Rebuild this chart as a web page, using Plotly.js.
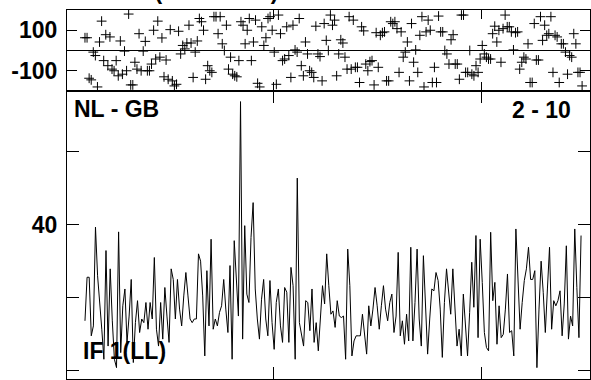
<!DOCTYPE html>
<html>
<head>
<meta charset="utf-8">
<script src="https://cdn.plot.ly/plotly-3.0.1.min.js"></script>
<style>html,body{margin:0;padding:0;background:#fff;}#chart{width:591px;height:380px;}</style>
</head>
<body>
<div id="chart"></div>
<script>
// ---- data ----
const timeStart = 0.096;   // first sample (hours, relative)
const timeEnd = 2.481;     // last sample

const amplitude = [
13.7,25.6,25.6,9.6,12.3,39.3,26,19.6,11.4,3.2,32.9,6.8,27.9,13.7,3.2,0.9,38,5,17.8,22.4,
7.8,15,25,2.3,13.2,19.2,10.5,14.2,13.2,18.7,11.4,18.7,14.2,31,11.4,6.8,18.7,8.7,22.8,15,
7.8,27.9,25,14.2,25,16.9,12.3,20.5,26.9,20.5,14.2,13.2,14.2,14.2,32,30,20.5,4.1,27.4,12.3,
36,11.4,14.2,12.3,16,17.8,25,16.9,10.5,28.8,3.2,35.6,23.3,15,73.6,8.7,39.7,21,18.7,36.5,
46,22.4,14.2,8.7,19.6,25,14.2,9.6,24.7,13.2,5.9,18.7,22.4,12.3,7.8,22.8,21.5,7.8,28.3,23.3,
3.2,52.7,13.2,9.6,6.8,19.2,18.7,11,22.4,7.8,13.2,5.5,15,23.3,18.3,32,23.3,15.5,16.4,11.9,
19.2,15,14.6,15,3.2,33.3,23.3,4.1,8.2,9.6,9.6,9.6,15.5,10.5,4.6,17.8,12.3,16.9,22.8,17.8,
11.4,17.8,23.3,16.9,13.7,18.7,21,10.5,15,32.4,9.6,13.7,7.3,15.5,8.2,33.8,8.2,18.7,33.3,14.2,
6.8,31.5,18.7,4.6,14.2,22.4,21.9,26.9,24.7,16.9,3.7,18.7,27.9,20.5,15.5,27.9,16.9,6.8,11.4,4.1,
21,13.2,4.1,16,29.7,17.4,37,9.1,36,24.2,10.5,6.4,5.5,37.9,19.2,24.2,7.3,17.8,9.1,10,
16.9,26.5,10.5,11,4.1,38.8,23.3,11.4,18.7,24.7,27.9,33.8,25,25,27.4,0.9,16.9,30,21.5,10.5,
22.4,33.8,11.4,19.2,17.8,19.2,21.9,9.6,18.3,34.2,8.7,15,12.3,38.8,22.8,9.1,37
];

const phase = [
63,63,-137,-145,-8,-25,-180,42,145,-50,78,-75,67,-92,-100,-50,-125,47,-117,-3,
-100,180,-170,-170,-58,-92,83,-100,-3,45,-100,-100,-67,100,-42,145,-33,62,-130,-47,
-142,103,-150,-175,-167,95,-17,25,8,37,125,37,-133,-8,47,158,142,100,-142,-75,
-100,-108,167,167,83,167,33,0,125,-92,-33,-117,-125,-130,-50,142,125,33,100,158,
-50,42,150,-162,-180,117,25,63,158,167,100,-8,-167,175,83,-50,-42,117,-25,-133,
125,3,-8,158,-75,-125,42,-17,-100,-108,-133,120,-17,-30,-150,133,50,0,175,125,
150,-125,-17,53,37,-33,-92,167,-92,150,-83,-83,-158,117,97,-67,-100,-55,-50,-170,
88,-83,75,88,92,-150,-150,142,133,142,108,-108,92,-33,-8,42,-150,133,-58,3,
-108,75,167,-180,92,150,100,-158,-83,-158,170,92,92,0,-17,-67,53,78,-67,-67,
-142,175,175,-108,-108,0,-117,-125,-75,-108,-42,25,-17,-33,-42,-42,83,120,42,100,
-58,108,175,117,117,92,3,88,92,-92,-58,-33,-42,33,-158,-158,133,-47,-47,167,
50,125,75,83,167,-108,75,67,-158,33,33,-8,-117,-25,-33,83,33,-108,-108,-175
];

const ampTicks = [0, 20, 40, 60];
const ampTickText = ['0', '', '40', ''];
const phaseTicks = [-100, 100];
const phaseTickText = ['-100', '100'];
const timeTicks = [1, 2];

const baselineLabel = 'NL - GB';
const antennaLabel = '2 - 10';
const ifLabel = 'IF 1(LL)';
const topTitle = 'AMPLITUDE (JANSKYS)';

// ---- plot ----
const fam = 'Liberation Sans, Arial, sans-serif';
const tickFont = {family: fam, size: 23, weight: 'bold', color: '#000'};
const lblFont = {family: fam, size: 23, weight: 'bold', color: '#000'};

const traces = [
  {
    type: 'scatter', mode: 'lines',
    x0: timeStart, dx: (timeEnd - timeStart) / (amplitude.length - 1),
    y: amplitude,
    line: {color: '#000', width: 1},
    xaxis: 'x', yaxis: 'y', hoverinfo: 'skip'
  },
  {
    type: 'scatter', mode: 'markers',
    x0: timeStart, dx: (timeEnd + 0.005 - timeStart) / (phase.length - 1),
    y: phase,
    marker: {symbol: 'cross-thin-open', size: 7, color: '#000', line: {color: '#000', width: 1}},
    xaxis: 'x2', yaxis: 'y2', hoverinfo: 'skip'
  }
];

const xRange = [0.0096, 2.524];
const split = 0.7805;

const commonX = {
  range: xRange, tickvals: timeTicks, ticks: 'inside', showticklabels: false,
  showline: true, linecolor: '#000', linewidth: 1, mirror: 'ticks',
  showgrid: false, zeroline: false, tickcolor: '#000', tickwidth: 1
};

const layout = {
  width: 591, height: 380,
  margin: {l: 67, r: 1, t: 10, b: 1, pad: 0},
  paper_bgcolor: '#fff', plot_bgcolor: '#fff',
  showlegend: false,
  xaxis: Object.assign({}, commonX, {domain: [0, 1], anchor: 'y', ticklen: 12}),
  yaxis: {
    domain: [0, split], anchor: 'x', range: [-2.2, 76.5],
    tickvals: ampTicks, ticktext: ampTickText, ticks: 'inside', ticklen: 12,
    tickfont: tickFont, showline: true, linecolor: '#000', linewidth: 1, mirror: 'ticks',
    showgrid: false, zeroline: false, tickcolor: '#000', ticklabelstandoff: 4
  },
  xaxis2: Object.assign({}, commonX, {domain: [0, 1], anchor: 'y2', matches: 'x', ticklen: 9}),
  yaxis2: {
    domain: [split, 1], anchor: 'x2', range: [-200, 200],
    tickvals: phaseTicks, ticktext: phaseTickText, ticks: 'inside', ticklen: 10,
    tickfont: tickFont, showline: true, linecolor: '#000', linewidth: 1, mirror: 'ticks',
    showgrid: false, zeroline: true, zerolinecolor: '#000', zerolinewidth: 1,
    tickcolor: '#000', ticklabelstandoff: 4
  },
  annotations: [
    {text: baselineLabel, xref: 'paper', yref: 'paper', x: 0.0096, y: 0.7317,
     xanchor: 'left', yanchor: 'middle', showarrow: false, font: lblFont},
    {text: antennaLabel, xref: 'paper', yref: 'paper', x: 0.9675, y: 0.729,
     xanchor: 'right', yanchor: 'middle', showarrow: false, font: lblFont},
    {text: ifLabel, xref: 'paper', yref: 'paper', x: 0.0268, y: 0.0772,
     xanchor: 'left', yanchor: 'middle', showarrow: false, font: lblFont},
    {text: topTitle, xref: 'paper', yref: 'paper', x: 0.41, y: 1.0095,
     xanchor: 'right', yanchor: 'bottom', showarrow: false, font: lblFont}
  ]
};

Plotly.newPlot('chart', traces, layout, {staticPlot: true, displayModeBar: false});
</script>
</body>
</html>
